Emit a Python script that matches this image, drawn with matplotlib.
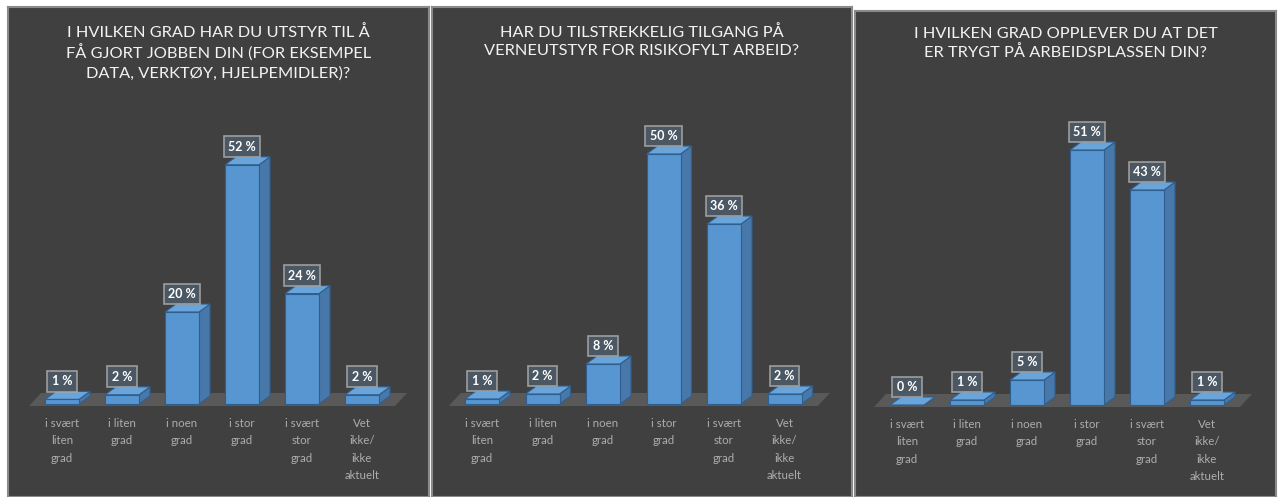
import matplotlib.pyplot as plt
from matplotlib.patches import Polygon, Rectangle

# Data
categories = ["i svært\nliten\ngrad", "i liten\ngrad", "i noen\ngrad", "i stor\ngrad",
              "i svært\nstor\ngrad", "Vet\nikke/\nikke\naktuelt"]
titles = ["I HVILKEN GRAD HAR DU UTSTYR TIL Å\nFÅ GJORT JOBBEN DIN (FOR EKSEMPEL\nDATA, VERKTØY, HJELPEMIDLER)?",
          "HAR DU TILSTREKKELIG TILGANG PÅ\nVERNEUTSTYR FOR RISIKOFYLT ARBEID?",
          "I HVILKEN GRAD OPPLEVER DU AT DET\nER TRYGT PÅ ARBEIDSPLASSEN DIN?"]
utstyr = [1, 2, 20, 52, 24, 2]
verneutstyr = [1, 2, 8, 50, 36, 2]
trygt = [0, 1, 5, 51, 43, 1]
series = [utstyr, verneutstyr, trygt]

W, H = 1278, 497
plt.rcParams['font.family'] = ['Lato', 'DejaVu Sans']
fig = plt.figure(figsize=(W / 100, H / 100), dpi=100)
fig.patch.set_facecolor('white')

# panel layout in pixels: left, top, right, floor y, px per %, first bar x, spacing, title top
panels = [(8, 7, 429, 404, 4.6, 54, 60, 25),
          (432, 7, 852, 404, 5.0, 50, 60.5, 25),
          (855, 11, 1276, 405, 5.0, 52, 60, 27)]

BG = '#404040'
FRONT = '#5796d0'
SIDE = '#4778a9'
TOP = '#69a4da'
EDGE = '#2f5f8f'

for (left, top, right, floor, scale, x0px, step, ttop), vals, title in zip(panels, series, titles):
    ax = fig.add_axes([left / W, 0, (right - left) / W, (H - top) / H])
    ax.set_facecolor(BG)
    ax.set_xticks([])
    ax.set_yticks([])
    for s in ax.spines.values():
        s.set_color('#8a8a8a')
        s.set_linewidth(1.5)
    width_px = right - left
    ax.set_xlim(-x0px / step, (width_px - x0px) / step)
    ax.set_ylim(-(H - floor) / scale, (floor - top) / scale)

    w = 34 / step
    dx = 11 / step
    dy = 8 / scale

    # floor
    fl = Polygon([(-0.55, -2 / scale), (5.55, -2 / scale), (5.75, 11 / scale), (-0.35, 11 / scale)],
                 closed=True, facecolor='#595959', edgecolor='none', zorder=1)
    ax.add_patch(fl)

    for i, v in enumerate(vals):
        xl = i - w / 2
        side = Polygon([(xl + w, 0), (xl + w + dx, dy), (xl + w + dx, v + dy), (xl + w, v)],
                       closed=True, facecolor=SIDE, edgecolor=EDGE, lw=0.8, zorder=2)
        topf = Polygon([(xl, v), (xl + dx, v + dy), (xl + w + dx, v + dy), (xl + w, v)],
                       closed=True, facecolor=TOP, edgecolor=EDGE, lw=0.8, zorder=2)
        ax.add_patch(side)
        ax.add_patch(topf)
        if v > 0:
            ax.add_patch(Rectangle((xl, 0), w, v, facecolor=FRONT, edgecolor=EDGE, lw=0.8, zorder=3))
        ax.annotate(f"{v} %", (i, v), xytext=(0, 18), textcoords='offset pixels',
                    ha='center', va='center', color='white', fontsize=9, fontweight='bold',
                    bbox=dict(boxstyle='square,pad=0.35', facecolor='#4d5b69', alpha=0.9,
                              edgecolor='#a6a6a6', lw=1.2), zorder=5)
        ax.annotate(categories[i], (i, 0), xytext=(0, -14), textcoords='offset pixels',
                    ha='center', va='top', color='#adadad', fontsize=8.3, linespacing=1.7)

    ax.text(0.5, 1 - (ttop - top) / (H - top), title, transform=ax.transAxes,
            ha='center', va='top', color='#f2f2f2', fontsize=11.8, linespacing=1.35)

fig.savefig('out.png', dpi=100, facecolor=fig.get_facecolor())
